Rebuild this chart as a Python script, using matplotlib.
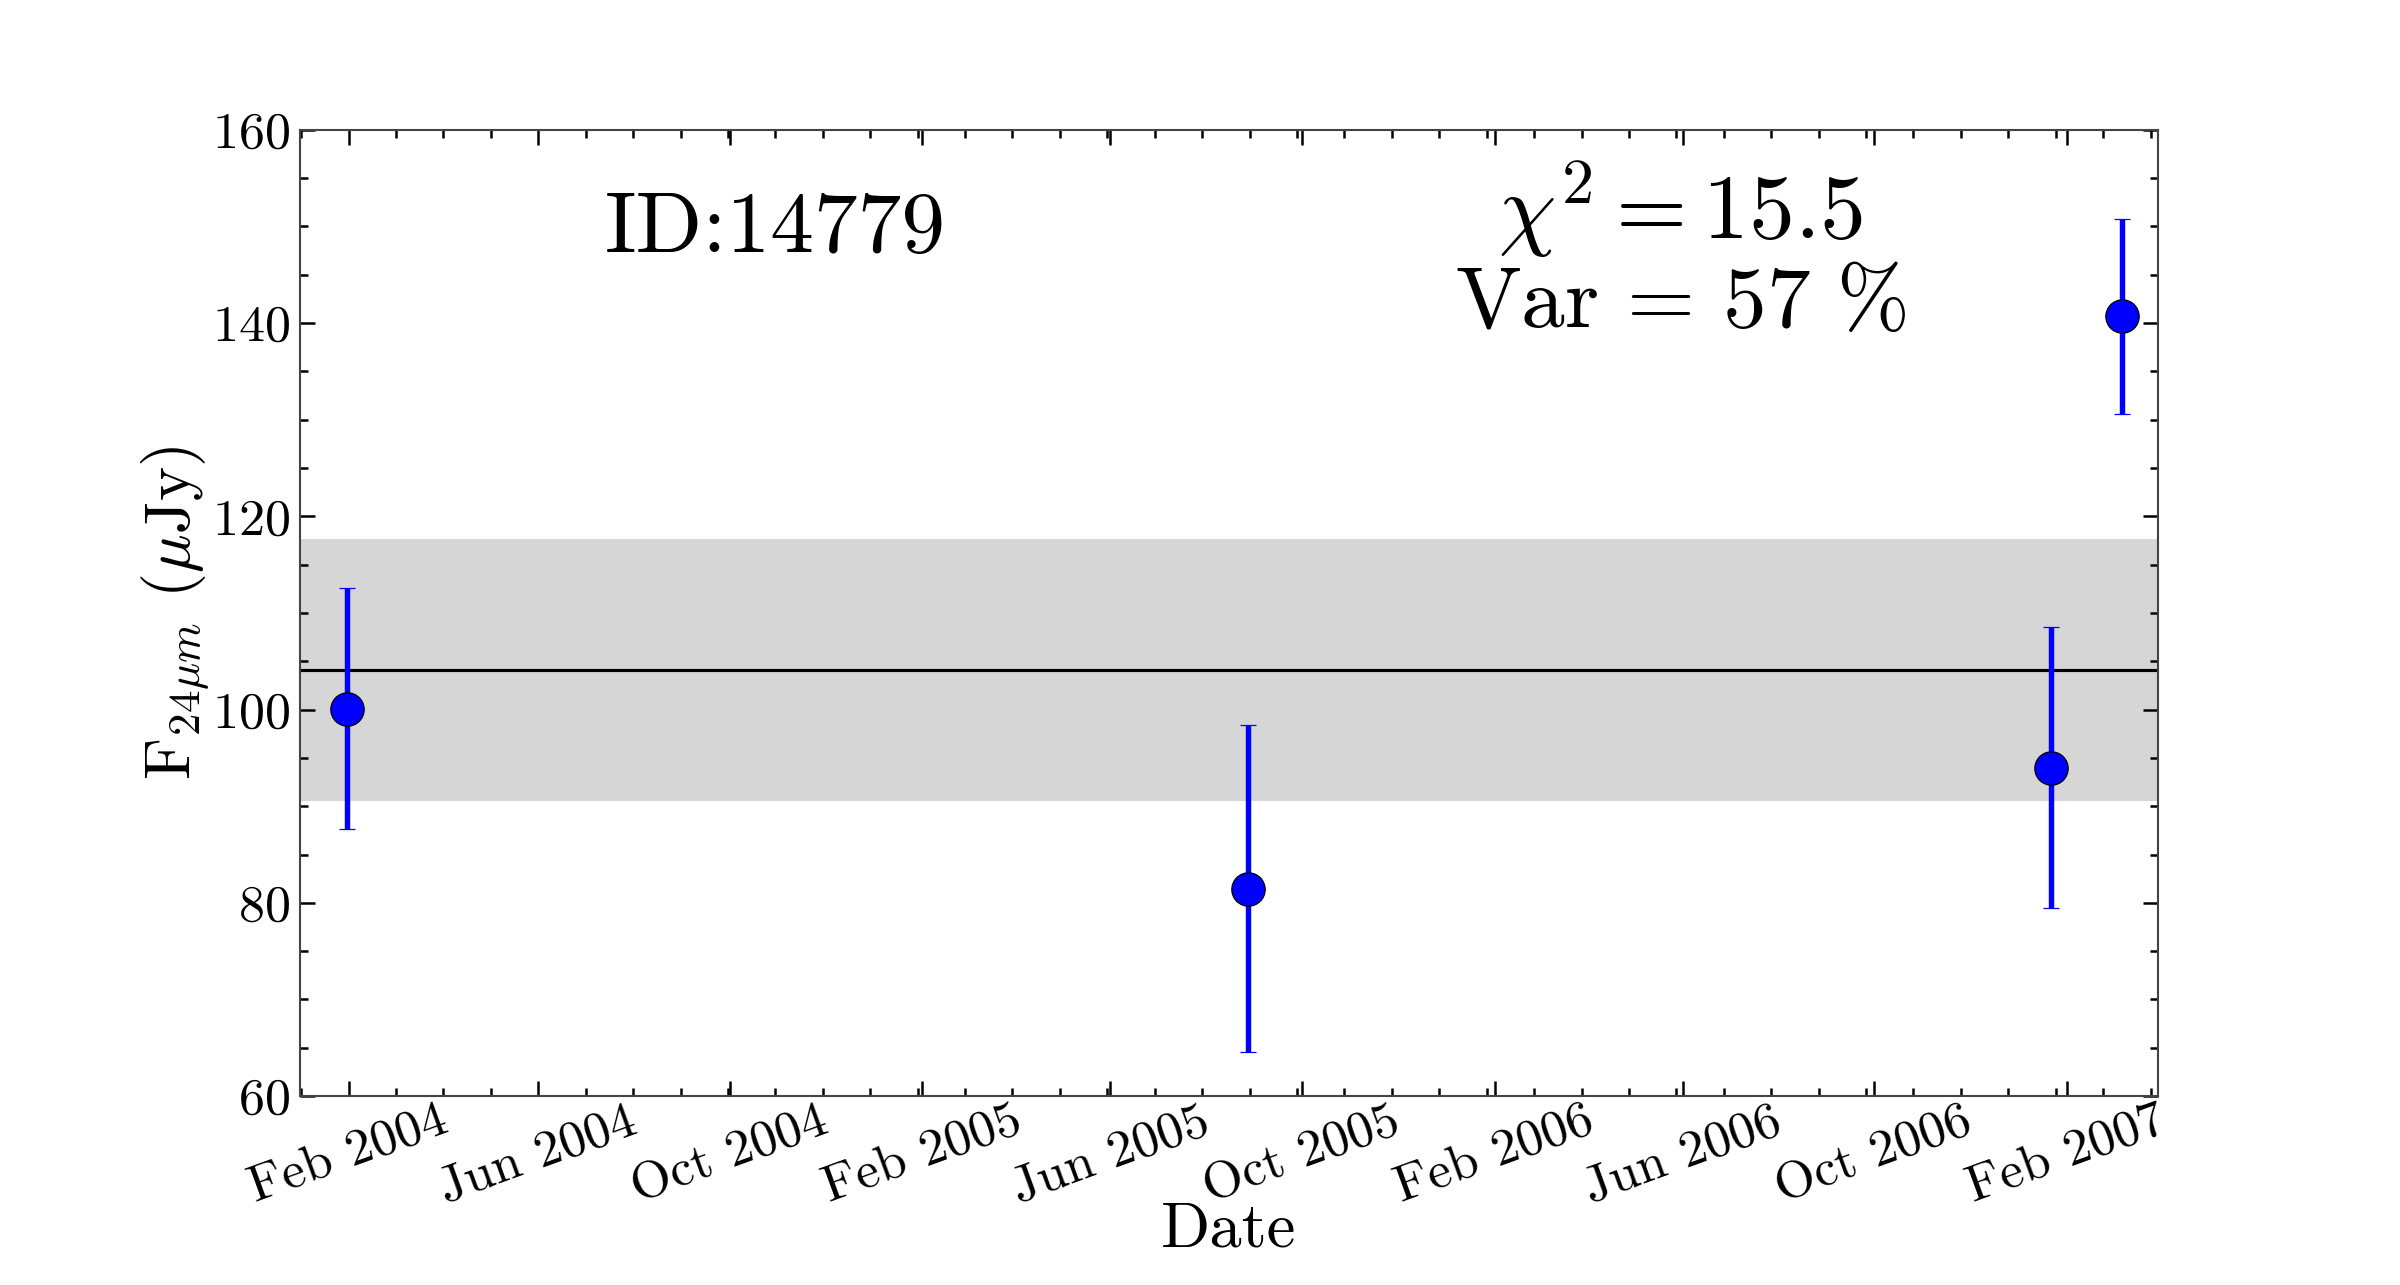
import numpy as np
import pandas as pd
import matplotlib
matplotlib.use('Agg')
import matplotlib.pyplot as plt
import matplotlib.dates as mdates
from matplotlib.ticker import MultipleLocator, AutoMinorLocator

plt.rcParams['font.family'] = 'serif'
plt.rcParams['font.serif'] = ['cmr10']
plt.rcParams['mathtext.fontset'] = 'cm'
plt.rcParams['axes.formatter.use_mathtext'] = True

# epochs and 24 micron fluxes
dates = pd.to_datetime(['2004-01-31', '2005-08-28', '2007-01-22', '2007-03-08'])
flux = [100.1, 81.45, 94.0, 140.7]
flux_err = [12.5, 16.9, 14.5, 10.1]

mean_flux = 104.1
std_flux = 13.6
obj_id = 14779
chi2 = 15.5
var_pct = 57

fig = plt.figure(figsize=(16, 8.567), dpi=150)
ax = fig.add_axes([0.125, 0.147, 0.774, 0.752])

ax.axhspan(mean_flux - std_flux, mean_flux + std_flux, color='#d6d6d6', lw=0, zorder=0)
ax.axhline(mean_flux, color='black', lw=1.5, zorder=1)
ax.errorbar(dates, flux, yerr=flux_err, fmt='o', color='#0000ff', ms=16,
            mec='black', mew=0.6, elinewidth=2.6, capsize=4, capthick=1.5, zorder=3)

ax.set_xlim(pd.Timestamp('2004-01-01'), pd.Timestamp('2007-03-31'))
ax.set_ylim(60, 160)

ax.xaxis.set_major_locator(mdates.MonthLocator(bymonth=[2, 6, 10]))
ax.xaxis.set_major_formatter(mdates.DateFormatter('%b %Y'))
ax.xaxis.set_minor_locator(AutoMinorLocator(4))
ax.yaxis.set_major_locator(MultipleLocator(20))
ax.yaxis.set_minor_locator(MultipleLocator(5))

ax.tick_params(which='both', direction='in', top=True, right=True, colors='black')
ax.tick_params(which='major', length=7, width=1.2, labelsize=25, pad=5)
ax.tick_params(which='minor', length=4, width=1.2)
ax.tick_params(axis='x', which='major', pad=1)
for lab in ax.get_xticklabels():
    lab.set_rotation(20)
    lab.set_ha('center')
for s in ax.spines.values():
    s.set_color('#444444')
    s.set_linewidth(1.0)

ax.set_xlabel('Date', fontsize=31, labelpad=-5)
ax.set_ylabel(r'$\mathrm{F}_{24\mu m}$ ($\mu$Jy)', fontsize=31, labelpad=0)

ax.text(0.256, 0.896, 'ID:%d' % obj_id, transform=ax.transAxes, fontsize=42,
        ha='center', va='center')
ax.text(0.743, 0.918, r'$\chi^2 = %.1f$' % chi2, transform=ax.transAxes, fontsize=44,
        ha='center', va='center')
ax.text(0.743, 0.818, r'$\mathrm{Var}\,=\,%d\ \%%$' % var_pct, transform=ax.transAxes,
        fontsize=42, ha='center', va='center')

fig.savefig('out.png', dpi=150)
